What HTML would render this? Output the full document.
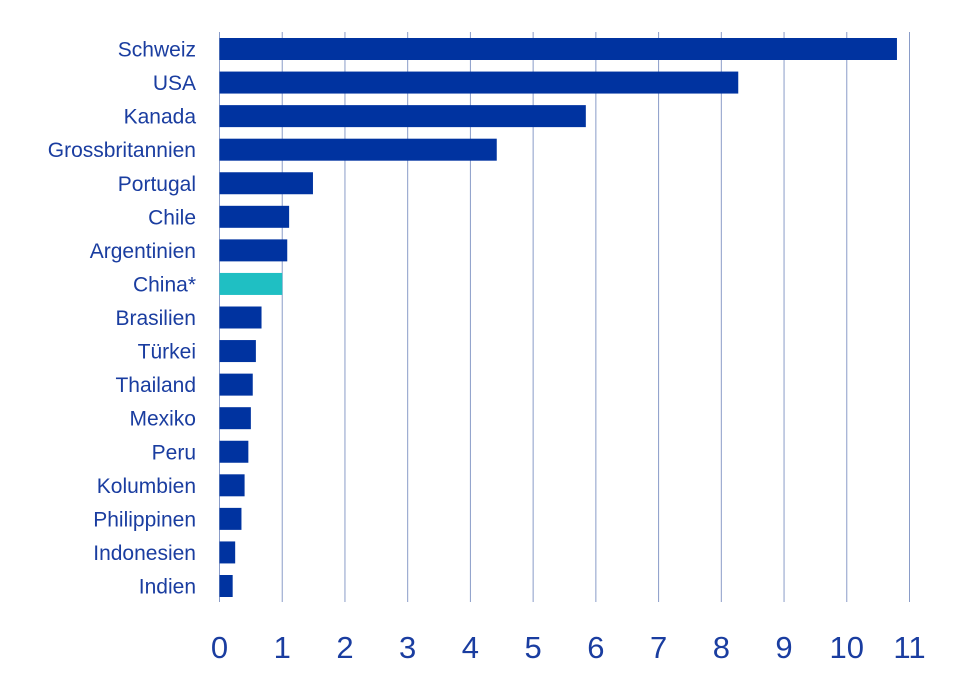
<!DOCTYPE html>
<html><head><meta charset="utf-8">
<style>
html,body{margin:0;padding:0;background:#fff;}
svg{display:block;font-family:"Liberation Sans",sans-serif;}
</style></head>
<body>
<svg id="chart" width="960" height="673" viewBox="0 0 960 673" xmlns="http://www.w3.org/2000/svg"></svg>
<script>
const categories = ["Schweiz","USA","Kanada","Grossbritannien","Portugal","Chile","Argentinien","China*","Brasilien","Türkei","Thailand","Mexiko","Peru","Kolumbien","Philippinen","Indonesien","Indien"];
const values = [10.8,8.27,5.84,4.42,1.49,1.11,1.08,1.0,0.67,0.58,0.53,0.5,0.46,0.4,0.35,0.25,0.21];
const highlight = ["China*"];
const tickLabels = [0,1,2,3,4,5,6,7,8,9,10,11];

const svg = document.getElementById('chart');
const NS = "http://www.w3.org/2000/svg";
const x0 = 219.5, x1 = 909.5, xMax = 11;
const xs = v => x0 + (x1 - x0) * v / xMax;
const yTop = 49, step = (586 - 49) / (categories.length - 1);
const ys = i => yTop + i * step;
const barH = 22;

function mk(tag, attrs){ const e = document.createElementNS(NS, tag); for (const k in attrs) e.setAttribute(k, attrs[k]); svg.appendChild(e); return e; }

tickLabels.forEach(t => {
  const g = mk('line', {x1: xs(t), x2: xs(t), y1: 32, y2: 602, stroke: t === 0 ? '#8a9cc8' : '#8a9cc8', 'stroke-width': 1});
  
  
  const tl = mk('text', {x: xs(t), y: 658, 'text-anchor': 'middle', 'font-size': 31, fill: '#1a3da0'});
  tl.textContent = t;
  
  
});

categories.forEach((c, i) => {
  const y = ys(i);
  const r = mk('rect', {x: x0, y: y - barH / 2, width: xs(values[i]) - x0, height: barH, fill: highlight.includes(c) ? '#1fbfc3' : '#0033a0'});
  
  
  const l = mk('text', {x: 196, y: y + 7.5, 'text-anchor': 'end', 'font-size': 21, fill: '#1a3da0'});
  l.textContent = c;
  
  
});
</script>
</body></html>
